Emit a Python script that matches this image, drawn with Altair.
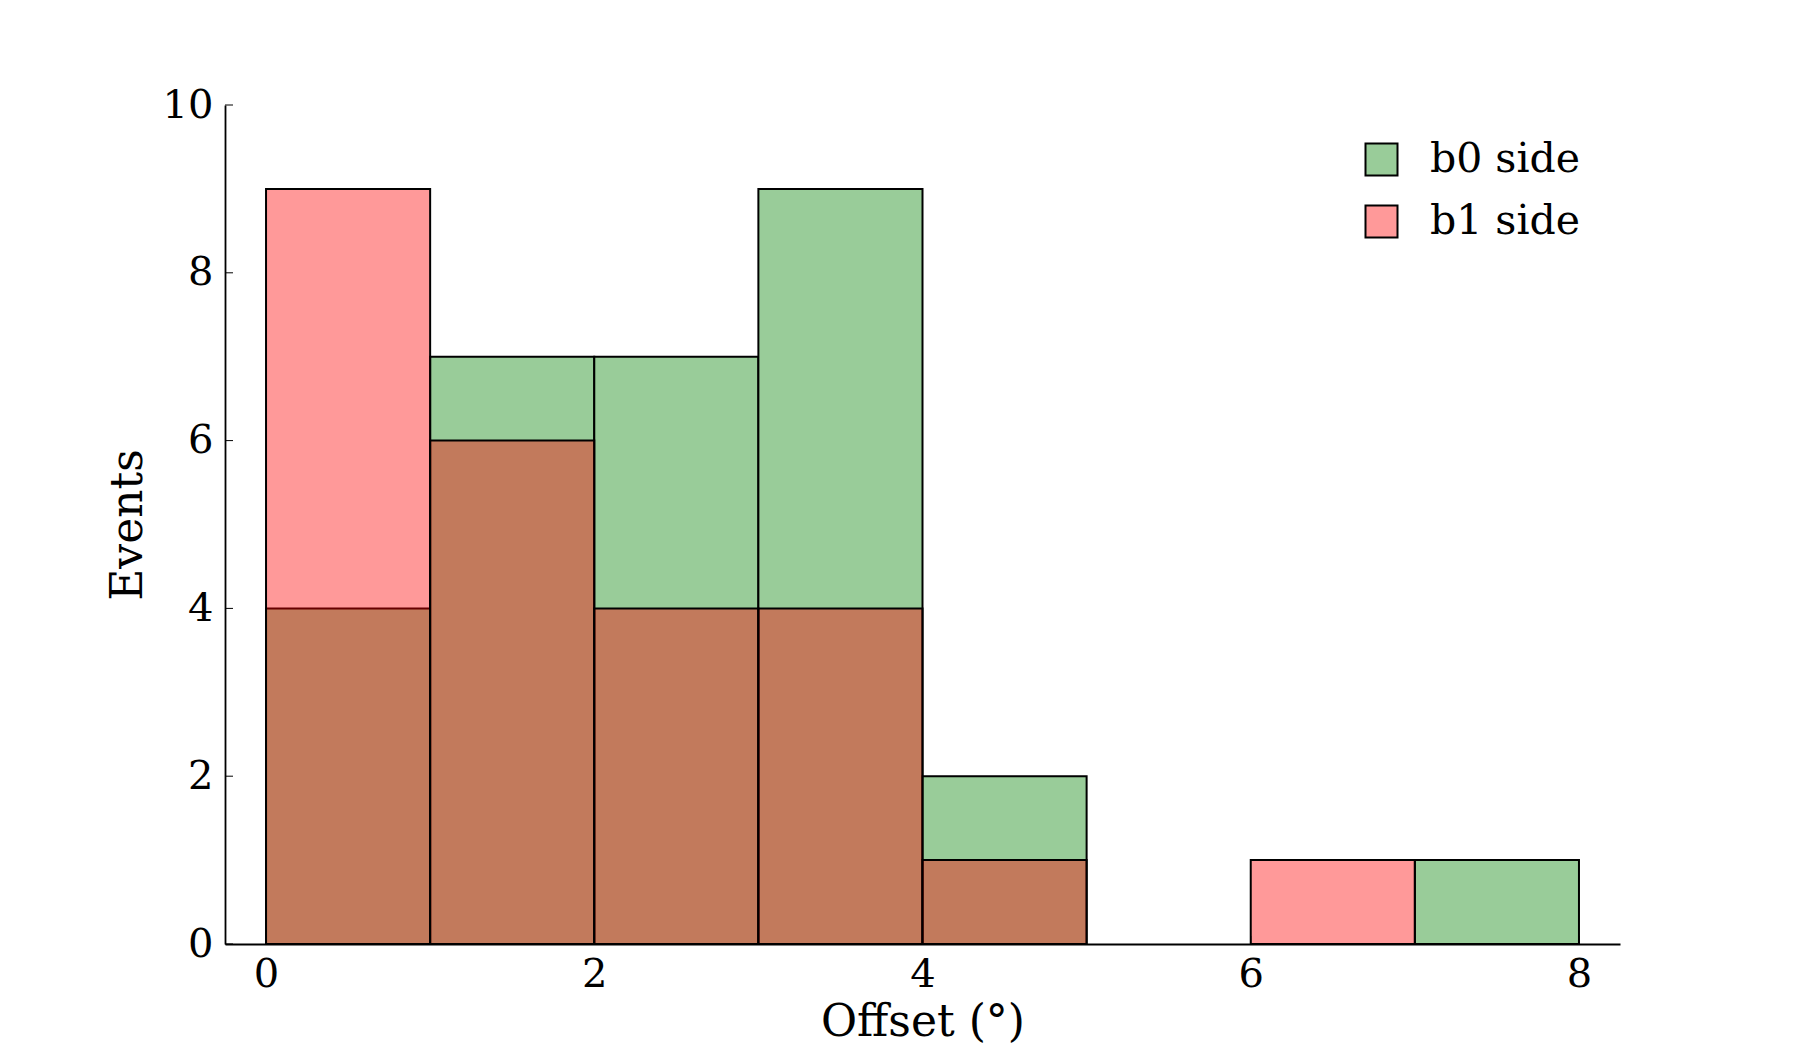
import altair as alt
import pandas as pd

bin_start = [0, 1, 2, 3, 4, 5, 6, 7]
b0_counts = [4, 7, 7, 9, 2, 0, 0, 1]
b1_counts = [9, 6, 4, 4, 1, 0, 1, 0]
series = ["b0 side", "b1 side"]
y_ticks = [0, 2, 4, 6, 8, 10]
x_ticks = [0, 2, 4, 6, 8]

FONT = "DejaVu Serif"
W, H = 1395, 839

g = pd.DataFrame({"start": bin_start, "end": [s + 1 for s in bin_start],
                  "count": b0_counts, "side": series[0]})
r = pd.DataFrame({"start": bin_start, "end": [s + 1 for s in bin_start],
                  "count": b1_counts, "side": series[1]})
g = g[g["count"] > 0]
r = r[r["count"] > 0]

xs = alt.Scale(domain=[-0.25, 8.25], nice=False, zero=False)
ys = alt.Scale(domain=[0, 10], nice=False, zero=True)

xaxis = alt.Axis(values=x_ticks, format="d", ticks=False, grid=False,
                 title="Offset (°)", labelPadding=10, titleBaseline="middle",
                 titleY=78, domainColor="black", domainWidth=1.8)
yaxis = alt.Axis(values=y_ticks, format="d", ticks=False, grid=False,
                 title="Events", labelPadding=12, titleBaseline="middle",
                 titleX=-97, titleY=H / 2, titleAngle=-90,
                 domainColor="black", domainWidth=1.8)

green = alt.Chart(g).mark_rect(stroke="black", strokeWidth=2, fillOpacity=1).encode(
    x=alt.X("start:Q", scale=xs, axis=xaxis),
    x2="end:Q",
    y=alt.Y("count:Q", scale=ys, axis=yaxis),
    y2=alt.datum(0),
    color=alt.Color("side:N",
                    scale=alt.Scale(domain=series, range=["#99cc99", "#ff9999"]),
                    legend=alt.Legend(title=None, orient="none", legendX=1136, legendY=34,
                                      symbolType="square", symbolSize=1024,
                                      symbolStrokeColor="black", symbolStrokeWidth=2,
                                      symbolOpacity=1, labelFontSize=41, labelFont=FONT,
                                      labelColor="black", labelOffset=28, rowPadding=20,
                                      padding=0)),
)

red = alt.Chart(r).mark_rect(stroke="black", strokeWidth=2, fill="#ff0000",
                             fillOpacity=0.4, strokeOpacity=1).encode(
    x=alt.X("start:Q", scale=xs),
    x2="end:Q",
    y=alt.Y("count:Q", scale=ys),
    y2=alt.datum(0),
)

yt = alt.Chart(pd.DataFrame({"v": y_ticks})).mark_rule(color="black", strokeWidth=1).encode(
    y=alt.Y("v:Q", scale=ys), x=alt.value(0), x2=alt.value(8))
xt = alt.Chart(pd.DataFrame({"v": x_ticks})).mark_rule(color="black", strokeWidth=1).encode(
    x=alt.X("v:Q", scale=xs), y=alt.value(H), y2=alt.value(H - 8))

chart = alt.layer(green, red, yt, xt).properties(
    width=W, height=H,
    autosize=alt.AutoSizeParams(type="none"),
    padding={"left": 225, "top": 105, "right": 180, "bottom": 106},
    background="white",
).configure_view(strokeWidth=0).configure_axis(
    labelFont=FONT, labelFontSize=40, labelColor="black",
    titleFont=FONT, titleFontSize=44, titleColor="black", titleFontWeight="normal",
).configure_legend(labelFont=FONT)

chart.save("out.html", embed_options={"renderer": "svg", "actions": False})
